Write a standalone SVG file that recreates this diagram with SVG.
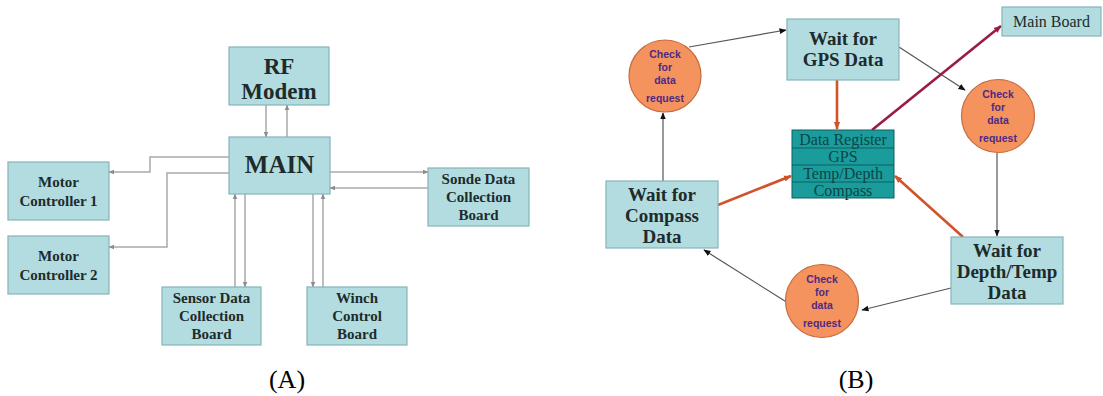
<svg xmlns="http://www.w3.org/2000/svg" width="1103" height="396" viewBox="0 0 1103 396">
  <style>
    .box { fill: #b2dcdf; stroke: #86b4b8; stroke-width: 1.2; }
    .lbl { font-family: "Liberation Serif", "Times New Roman", serif; font-weight: bold; fill: #1e2b2c; text-anchor: middle; }
    .reg { fill: #1a9c9c; stroke: #0f5f60; stroke-width: 1; }
    .regtxt { font-family: "Liberation Serif", "Times New Roman", serif; font-size: 16px; fill: #0c4546; text-anchor: middle; }
    .chk { fill: #f5935f; stroke: #c66c3e; stroke-width: 1.2; }
    .chktxt { font-family: "Liberation Sans", Arial, sans-serif; font-weight: bold; font-size: 10.5px; fill: #4e2a84; text-anchor: middle; }
    .gray { fill: none; stroke: #a9a9a9; stroke-width: 1.5; marker-end: url(#ga); }
    .dark { fill: none; stroke: #555; stroke-width: 1.2; marker-end: url(#da); }
    .orange { fill: none; stroke: #d2522a; stroke-width: 2.6; marker-end: url(#oa); }
    .maroon { fill: none; stroke: #9a1a48; stroke-width: 2.6; marker-end: url(#ma); }
    .cap { font-family: "Liberation Serif", "Times New Roman", serif; font-size: 26px; fill: #000; text-anchor: middle; }
  </style>
  <defs>
    <marker id="ga" viewBox="0 0 10 10" refX="9" refY="5" markerWidth="4" markerHeight="4" orient="auto" markerUnits="strokeWidth">
      <path d="M0,1 L10,5 L0,9 z" fill="#8c8c8c"/>
    </marker>
    <marker id="da" viewBox="0 0 10 10" refX="9" refY="5" markerWidth="6" markerHeight="6" orient="auto" markerUnits="strokeWidth">
      <path d="M0,1 L10,5 L0,9 z" fill="#111"/>
    </marker>
    <marker id="oa" viewBox="0 0 10 10" refX="9" refY="5" markerWidth="3" markerHeight="3" orient="auto" markerUnits="strokeWidth">
      <path d="M0,1 L10,5 L0,9 z" fill="#d2522a"/>
    </marker>
    <marker id="ma" viewBox="0 0 10 10" refX="9" refY="5" markerWidth="3" markerHeight="3" orient="auto" markerUnits="strokeWidth">
      <path d="M0,1 L10,5 L0,9 z" fill="#9a1a48"/>
    </marker>
  </defs>

  <rect width="1103" height="396" fill="#fff"/>

  <!-- (A) board layout -->
  <g id="connectors-a">
    <line class="gray" x1="266" y1="105" x2="266" y2="137"/>
    <line class="gray" x1="287" y1="137" x2="287" y2="105"/>
    <polyline class="gray" points="229,157 150,157 150,172 109,172"/>
    <polyline class="gray" points="229,173 167,173 167,247 109,247"/>
    <line class="gray" x1="330" y1="172" x2="428" y2="172"/>
    <line class="gray" x1="428" y1="188" x2="330" y2="188"/>
    <line class="gray" x1="235" y1="287" x2="235" y2="194"/>
    <line class="gray" x1="245" y1="194" x2="245" y2="287"/>
    <line class="gray" x1="313" y1="194" x2="313" y2="287"/>
    <line class="gray" x1="323" y1="287" x2="323" y2="194"/>
  </g>

  <g id="rf-modem">
    <rect class="box" x="229" y="47" width="100" height="58"/>
    <text class="lbl" x="279" y="74" font-size="23">RF</text>
    <text class="lbl" x="279" y="99" font-size="23">Modem</text>
  </g>
  <g id="main">
    <rect class="box" x="229" y="137" width="101" height="57"/>
    <text class="lbl" x="279.5" y="173" font-size="25">MAIN</text>
  </g>
  <g id="motor-controller-1">
    <rect class="box" x="8" y="162" width="101" height="58"/>
    <text class="lbl" x="58.5" y="187" font-size="15">Motor</text>
    <text class="lbl" x="58.5" y="206" font-size="15">Controller 1</text>
  </g>
  <g id="motor-controller-2">
    <rect class="box" x="8" y="236" width="101" height="58"/>
    <text class="lbl" x="58.5" y="261" font-size="15">Motor</text>
    <text class="lbl" x="58.5" y="280" font-size="15">Controller 2</text>
  </g>
  <g id="sonde-board">
    <rect class="box" x="428" y="168" width="101" height="58"/>
    <text class="lbl" x="478.5" y="184" font-size="15">Sonde Data</text>
    <text class="lbl" x="478.5" y="202" font-size="15">Collection</text>
    <text class="lbl" x="478.5" y="220" font-size="15">Board</text>
  </g>
  <g id="sensor-board">
    <rect class="box" x="162" y="287" width="99" height="58"/>
    <text class="lbl" x="211.5" y="303" font-size="15">Sensor Data</text>
    <text class="lbl" x="211.5" y="321" font-size="15">Collection</text>
    <text class="lbl" x="211.5" y="339" font-size="15">Board</text>
  </g>
  <g id="winch-board">
    <rect class="box" x="307" y="287" width="100" height="58"/>
    <text class="lbl" x="357" y="303" font-size="15">Winch</text>
    <text class="lbl" x="357" y="321" font-size="15">Control</text>
    <text class="lbl" x="357" y="339" font-size="15">Board</text>
  </g>

  <!-- (B) polling loop -->
  <g id="connectors-b">
    <line class="dark" x1="689" y1="47" x2="786" y2="30"/>
    <line class="dark" x1="899" y1="47" x2="965" y2="90"/>
    <line class="dark" x1="997" y1="153" x2="997" y2="236"/>
    <line class="dark" x1="951" y1="288" x2="862" y2="310"/>
    <line class="dark" x1="788" y1="303" x2="704" y2="250"/>
    <line class="dark" x1="663" y1="181" x2="663" y2="113"/>
    <line class="orange" x1="837" y1="80" x2="837" y2="129"/>
    <line class="orange" x1="718" y1="205" x2="791" y2="176"/>
    <line class="orange" x1="963" y1="237" x2="895" y2="176"/>
    <line class="maroon" x1="872" y1="130" x2="1001" y2="26"/>
  </g>

  <g id="wait-gps">
    <rect class="box" x="787" y="19" width="112" height="61"/>
    <text class="lbl" x="843" y="45" font-size="19">Wait for</text>
    <text class="lbl" x="843" y="66" font-size="19">GPS Data</text>
  </g>
  <g id="main-board">
    <rect class="box" x="1002" y="7" width="99" height="29"/>
    <text x="1051.5" y="27" font-family="Liberation Serif, Times New Roman, serif" font-size="16" fill="#1e2b2c" text-anchor="middle">Main Board</text>
  </g>
  <g id="data-register">
    <rect class="reg" x="792" y="130" width="102" height="68"/>
    <line x1="792" y1="148" x2="894" y2="148" stroke="#0f5f60" stroke-width="1"/>
    <line x1="792" y1="165" x2="894" y2="165" stroke="#0f5f60" stroke-width="1"/>
    <line x1="792" y1="182" x2="894" y2="182" stroke="#0f5f60" stroke-width="1"/>
    <text class="regtxt" x="843" y="145">Data Register</text>
    <text class="regtxt" x="843" y="162">GPS</text>
    <text class="regtxt" x="843" y="179">Temp/Depth</text>
    <text class="regtxt" x="843" y="196">Compass</text>
  </g>
  <g id="wait-compass">
    <rect class="box" x="606" y="181" width="112" height="67"/>
    <text class="lbl" x="662" y="201" font-size="19">Wait for</text>
    <text class="lbl" x="662" y="222" font-size="19">Compass</text>
    <text class="lbl" x="662" y="243" font-size="19">Data</text>
  </g>
  <g id="wait-depth-temp">
    <rect class="box" x="951" y="237" width="112" height="67"/>
    <text class="lbl" x="1007" y="257" font-size="19">Wait for</text>
    <text class="lbl" x="1007" y="278" font-size="19">Depth/Temp</text>
    <text class="lbl" x="1007" y="299" font-size="19">Data</text>
  </g>
  <g id="check-1">
    <circle class="chk" cx="665" cy="76" r="36"/>
    <text class="chktxt" x="665" y="58">Check</text>
    <text class="chktxt" x="665" y="71">for</text>
    <text class="chktxt" x="665" y="84">data</text>
    <text class="chktxt" x="665" y="102">request</text>
  </g>
  <g id="check-2">
    <circle class="chk" cx="998" cy="116" r="36.5"/>
    <text class="chktxt" x="998" y="98">Check</text>
    <text class="chktxt" x="998" y="111">for</text>
    <text class="chktxt" x="998" y="124">data</text>
    <text class="chktxt" x="998" y="142">request</text>
  </g>
  <g id="check-3">
    <circle class="chk" cx="822" cy="301" r="36.5"/>
    <text class="chktxt" x="822" y="283">Check</text>
    <text class="chktxt" x="822" y="296">for</text>
    <text class="chktxt" x="822" y="309">data</text>
    <text class="chktxt" x="822" y="327">request</text>
  </g>

  <g id="captions">
    <text class="cap" x="287" y="388">(A)</text>
    <text class="cap" x="856" y="388">(B)</text>
  </g>
</svg>
